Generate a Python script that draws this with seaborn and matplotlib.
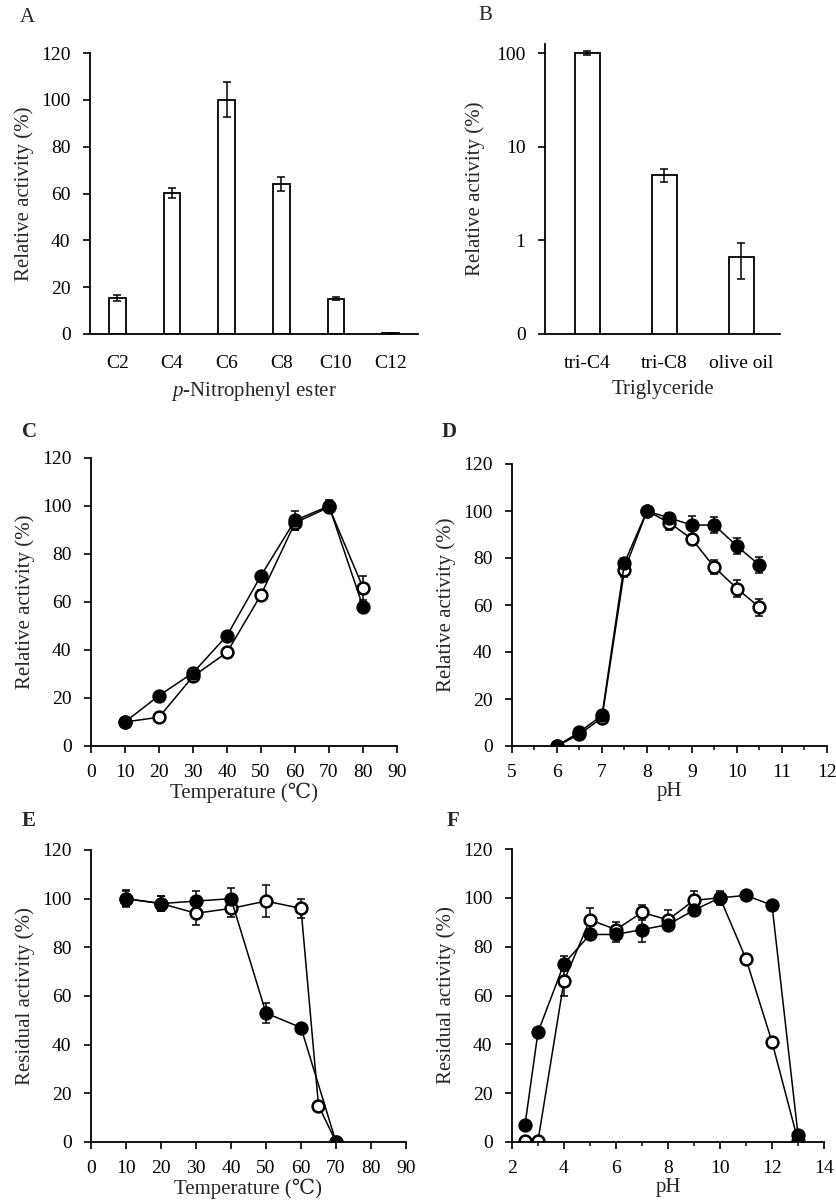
import numpy as np
import matplotlib
matplotlib.use('Agg')
import matplotlib.pyplot as plt
from matplotlib.ticker import MultipleLocator, NullLocator, FixedLocator
import seaborn as sns

# A: p-nitrophenyl esters
a_labels = ['C2', 'C4', 'C6', 'C8', 'C10', 'C12']
a_vals = [15.5, 60.2, 100, 64, 15.1, 0.3]
a_err = [1.2, 2.0, 7.5, 3.0, 0.6, 0.1]

# B: triglycerides (log scale)
b_labels = ['tri-C4', 'tri-C8', 'olive oil']
b_vals = [100, 5.0, 0.66]
b_err = [5, 0.8, 0.27]

# C: temperature optimum
c_temp = [10, 20, 30, 40, 50, 60, 70, 80]
c_filled = [10, 21, 30.5, 46, 71, 94, 100, 58]
c_filled_err = [0.5, 1, 1, 1, 1.5, 4, 2.5, 2]
c_open = [10, 12, 29, 39, 63, 93, 99.5, 66]
c_open_err = [0.5, 1, 1, 1, 2, 3, 2, 5]

# D: pH optimum
d_ph = [6, 6.5, 7, 7.5, 8, 8.5, 9, 9.5, 10, 10.5]
d_filled = [0, 6, 13, 78, 100, 97, 94, 94, 85, 77]
d_filled_err = [0.5, 1, 1.5, 2, 1.5, 2, 4, 3.5, 3.5, 3.5]
d_open = [0, 5, 12, 75, 100, 95, 88, 76, 67, 59]
d_open_err = [0.5, 1, 1, 3, 1.5, 3, 2, 3, 3.5, 3.5]

# E: thermostability
e_filled_temp = [10, 20, 30, 40, 50, 60, 70]
e_filled = [100, 98, 99, 100, 53, 47, 0]
e_filled_err = [3.5, 3, 4, 4.5, 4, 1, 0.5]
e_open_temp = [10, 20, 30, 40, 50, 60, 65, 70]
e_open = [100, 98, 94, 96, 99, 96, 15, 0]
e_open_err = [3, 3, 5, 3.5, 6.5, 4, 1, 0.5]

# F: pH stability
f_ph = [2.5, 3, 4, 5, 6, 7, 8, 9, 10, 11, 12, 13]
f_filled = [7, 45, 73, 85, 85, 87, 89, 95, 100, 101, 97, 3]
f_filled_err = [1, 1, 3, 2, 3, 5, 2, 1, 3, 1, 1, 1]
f_open = [0.5, 0.5, 66, 91, 87, 94, 91, 99, 100, 75, 41, 0.5]
f_open_err = [0.5, 0.5, 6, 5, 3, 3, 4, 4, 2, 2, 1, 0.5]

sns.set_style('ticks')
plt.rcParams['font.family'] = ['Liberation Serif', 'DejaVu Serif', 'DejaVu Sans']
plt.rcParams['mathtext.fontset'] = 'custom'
plt.rcParams['mathtext.it'] = 'Liberation Serif:italic'
plt.rcParams['mathtext.rm'] = 'Liberation Serif'

TICK = 14
LAB = 15
W, H = 837, 1202
fig = plt.figure(figsize=(W / 100, H / 100), dpi=100)


def make_ax(left, right, top, bottom):
    return fig.add_axes([left / W, 1 - bottom / H, (right - left) / W, (bottom - top) / H])


def style(ax):
    sns.despine(ax=ax)
    for s in ['left', 'bottom']:
        ax.spines[s].set_linewidth(1.3)
        ax.spines[s].set_color('black')
    ax.tick_params(axis='both', which='major', direction='out', length=5, width=1.2,
                   colors='black', labelsize=TICK)
    ax.tick_params(axis='both', which='minor', direction='out', length=3, width=1.1, colors='black')
    ax.tick_params(axis='y', pad=9)
    ax.tick_params(axis='x', pad=8)


def line_panel(ax, xs, ys, errs, filled):
    ax.errorbar(xs, ys, yerr=errs, fmt='none', ecolor='black', elinewidth=1.1,
                capsize=3, capthick=1.1, zorder=1.5)
    sns.lineplot(x=xs, y=ys, ax=ax, color='black', linewidth=1.1, marker='o',
                 markersize=8.5, markeredgewidth=1.8, markeredgecolor='black',
                 markerfacecolor='black' if filled else 'white', zorder=3 if filled else 2.5)


# ---- A
axA = make_ax(90, 418, 53, 334)
sns.barplot(x=a_labels, y=a_vals, ax=axA, color='white', edgecolor='black', linewidth=1.3,
            width=0.31, errorbar=None)
axA.errorbar(range(len(a_labels)), a_vals, yerr=a_err, fmt='none', ecolor='black',
             elinewidth=1.1, capsize=3, capthick=1.1)
axA.set_ylim(0, 120)
axA.set_xlim(-0.5, 5.5)
axA.yaxis.set_major_locator(MultipleLocator(20))
style(axA)
axA.tick_params(axis='x', length=0, pad=15)
axA.set_ylabel('Relative activity (%)', fontsize=LAB, labelpad=5)
axA.set_xlabel(r'$\it{p}$-Nitrophenyl ester', fontsize=LAB, labelpad=6)

# ---- B
axB = make_ax(545, 780, 44, 334)
sns.barplot(x=b_labels, y=b_vals, ax=axB, color='white', edgecolor='black', linewidth=1.3,
            width=0.32, errorbar=None)
axB.errorbar(range(len(b_labels)), b_vals, yerr=b_err, fmt='none', ecolor='black',
             elinewidth=1.1, capsize=3, capthick=1.1)
axB.set_yscale('log')
axB.set_ylim(0.1, 125)
axB.set_xlim(-0.55, 2.5)
axB.yaxis.set_major_locator(FixedLocator([0.1, 1, 10, 100]))
axB.yaxis.set_minor_locator(NullLocator())
axB.set_yticklabels(['0', '1', '10', '100'])
style(axB)
axB.tick_params(axis='x', length=0, pad=15)
axB.set_ylabel('Relative activity (%)', fontsize=LAB, labelpad=8)
axB.set_xlabel('Triglyceride', fontsize=LAB, labelpad=6)

# ---- C
axC = make_ax(91, 397, 458, 746)
line_panel(axC, c_temp, c_open, c_open_err, False)
line_panel(axC, c_temp, c_filled, c_filled_err, True)
axC.set_xlim(0, 90)
axC.set_ylim(0, 120)
axC.xaxis.set_major_locator(MultipleLocator(10))
axC.yaxis.set_major_locator(MultipleLocator(20))
style(axC)
axC.set_ylabel('Relative activity (%)', fontsize=LAB, labelpad=5)
axC.set_xlabel('Temperature (℃)', fontsize=LAB, labelpad=1)

# ---- D
axD = make_ax(512, 827, 464, 746)
line_panel(axD, d_ph, d_open, d_open_err, False)
line_panel(axD, d_ph, d_filled, d_filled_err, True)
axD.set_xlim(5, 12)
axD.set_ylim(0, 120)
axD.xaxis.set_major_locator(MultipleLocator(1))
axD.xaxis.set_minor_locator(MultipleLocator(0.5))
axD.yaxis.set_major_locator(MultipleLocator(20))
style(axD)
axD.set_ylabel('Relative activity (%)', fontsize=LAB, labelpad=5)
axD.set_xlabel('pH', fontsize=LAB, labelpad=1)

# ---- E
axE = make_ax(91, 406, 850, 1142)
line_panel(axE, e_filled_temp, e_filled, e_filled_err, True)
line_panel(axE, e_open_temp, e_open, e_open_err, False)
axE.set_xlim(0, 90)
axE.set_ylim(0, 120)
axE.xaxis.set_major_locator(MultipleLocator(10))
axE.yaxis.set_major_locator(MultipleLocator(20))
style(axE)
axE.set_ylabel('Residual activity (%)', fontsize=LAB, labelpad=5)
axE.set_xlabel('Temperature (℃)', fontsize=LAB, labelpad=1)

# ---- F
axF = make_ax(512, 824, 849, 1142)
line_panel(axF, f_ph, f_filled, f_filled_err, True)
line_panel(axF, f_ph, f_open, f_open_err, False)
axF.set_xlim(2, 14)
axF.set_ylim(0, 120)
axF.xaxis.set_major_locator(MultipleLocator(2))
axF.xaxis.set_minor_locator(MultipleLocator(1))
axF.yaxis.set_major_locator(MultipleLocator(20))
style(axF)
axF.set_ylabel('Residual activity (%)', fontsize=LAB, labelpad=5)
axF.set_xlabel('pH', fontsize=LAB, labelpad=1)

# panel letters
fig.text(20 / W, 1 - 18 / H, 'A', fontsize=15, va='center', ha='left')
fig.text(478 / W, 1 - 16 / H, 'B', fontsize=15, va='center', ha='left')
fig.text(22 / W, 1 - 432 / H, 'C', fontsize=15, fontweight='bold', va='center', ha='left')
fig.text(442 / W, 1 - 432 / H, 'D', fontsize=15, fontweight='bold', va='center', ha='left')
fig.text(22 / W, 1 - 821 / H, 'E', fontsize=15, fontweight='bold', va='center', ha='left')
fig.text(447 / W, 1 - 821 / H, 'F', fontsize=15, fontweight='bold', va='center', ha='left')

fig.savefig('out.png', dpi=100)
